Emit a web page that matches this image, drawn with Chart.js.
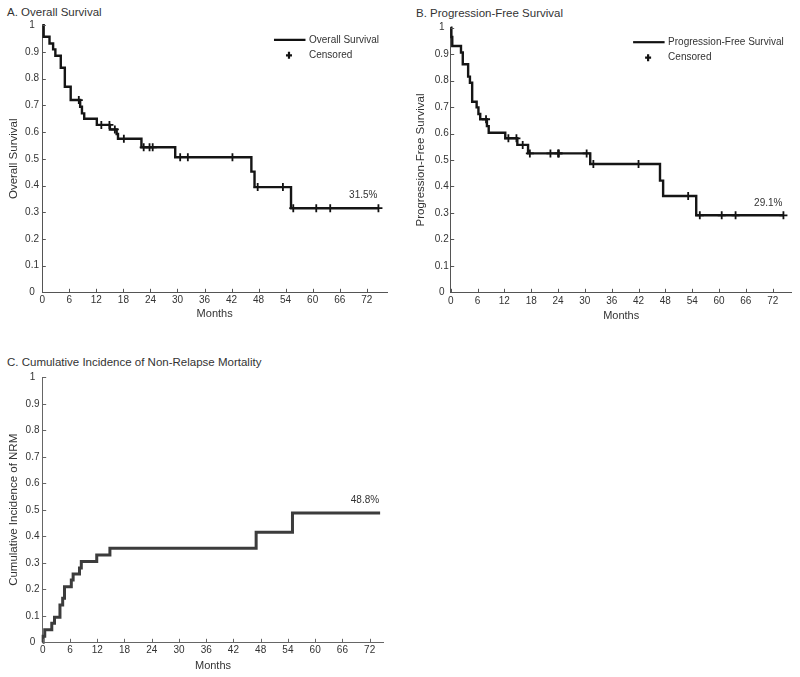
<!DOCTYPE html>
<html><head><meta charset="utf-8">
<script src="https://cdn.jsdelivr.net/npm/chart.js@4.4.1/dist/chart.umd.min.js"></script>
<style>
html,body{margin:0;padding:0;background:#fff;}
#wrap{position:relative;width:800px;height:677px;overflow:hidden;font-family:"Liberation Sans",Arial,sans-serif;background:#fff;}
.ttl{position:absolute;font-size:11.5px;line-height:14px;color:#333;white-space:nowrap;}
canvas{position:absolute;}
</style></head><body>
<div id="wrap">
<div class="ttl" id="tA" style="left:7px;top:5px"></div>
<div class="ttl" id="tB" style="left:416px;top:6px"></div>
<div class="ttl" id="tC" style="left:7px;top:355px"></div>
<canvas id="cA" width="400" height="330" style="left:0;top:0"></canvas>
<canvas id="cB" width="400" height="330" style="left:400px;top:0"></canvas>
<canvas id="cC" width="400" height="347" style="left:0;top:330px"></canvas>
</div>
<script>
// ---------- data ----------
const panelTitles = ["A. Overall Survival", "B. Progression-Free Survival", "C. Cumulative Incidence of Non-Relapse Mortality"];
const yAxisTitles = ["Overall Survival", "Progression-Free Survival", "Cumulative Incidence of NRM"];
const xAxisTitle = "Months";
const monthTicks = [0, 6, 12, 18, 24, 30, 36, 42, 48, 54, 60, 66, 72];
const probTicks = [0, 0.1, 0.2, 0.3, 0.4, 0.5, 0.6, 0.7, 0.8, 0.9, 1];
const endLabels = ["31.5%", "29.1%", "48.8%"];
const legendLineLabels = ["Overall Survival", "Progression-Free Survival"];
const censorLabel = "Censored";

// A. Overall survival (event times in months, survival after each time)
const osTimes = [0, 0.3, 1.6, 2.4, 2.9, 4.1, 5.0, 6.3, 8.4, 8.8, 9.3, 12.1, 15.0, 16.5, 16.8, 22.0, 29.5, 46.4, 47.1, 55.2, 74.6];
const osSurv  = [1, 0.957, 0.932, 0.910, 0.886, 0.841, 0.770, 0.720, 0.695, 0.670, 0.650, 0.627, 0.610, 0.593, 0.575, 0.543, 0.506, 0.452, 0.394, 0.315, 0.315];
const osCensorTimes = [8.1, 13.1, 14.9, 16.1, 18.1, 22.5, 23.8, 24.5, 30.6, 32.3, 42.2, 47.8, 53.4, 55.7, 60.8, 63.9, 74.6];

// B. Progression-free survival
const pfsTimes = [0, 0.15, 0.35, 2.3, 2.7, 3.9, 4.3, 4.8, 5.8, 6.2, 6.6, 8.1, 8.5, 12.2, 14.9, 17.3, 31.2, 46.8, 47.5, 54.9, 74.4];
const pfsSurv  = [1, 0.965, 0.931, 0.906, 0.862, 0.815, 0.792, 0.720, 0.699, 0.674, 0.654, 0.628, 0.603, 0.582, 0.557, 0.525, 0.485, 0.422, 0.364, 0.291, 0.291];
const pfsCensorTimes = [7.9, 12.9, 14.7, 16.1, 17.7, 22.3, 24.0, 24.2, 30.4, 31.9, 42.0, 53.1, 55.7, 60.6, 63.7, 74.4];

// C. Cumulative incidence of NRM
const nrmTimes = [0, 0.1, 0.45, 2.0, 2.6, 3.8, 4.4, 4.8, 6.3, 6.7, 8.1, 8.5, 11.9, 14.8, 47.0, 55.0, 74.3];
const nrmCum   = [0, 0.023, 0.047, 0.072, 0.095, 0.141, 0.166, 0.210, 0.235, 0.258, 0.280, 0.305, 0.329, 0.355, 0.415, 0.488, 0.488];

// ---------- helpers ----------
document.getElementById('tA').textContent = panelTitles[0];
document.getElementById('tB').textContent = panelTitles[1];
document.getElementById('tC').textContent = panelTitles[2];

const FONT = '"Liberation Sans", Arial, sans-serif';
const TXT = '#333';

function levelAt(times, vals, t) {
  let v = vals[0];
  for (let i = 0; i < times.length; i++) if (times[i] <= t) v = vals[i];
  return v;
}

const decor = {
  id: 'panelDecor',
  afterDraw(chart, args, o) {
    const {ctx, chartArea: ca, scales: {x, y}} = chart;
    ctx.save();
    // inward tick marks
    ctx.strokeStyle = o.axisColor; ctx.lineWidth = 1;
    ctx.beginPath();
    x.ticks.forEach(t => { const p = Math.round(x.getPixelForValue(t.value)) + 0.5; ctx.moveTo(p, ca.bottom); ctx.lineTo(p, ca.bottom - o.tickLen); });
    y.ticks.forEach(t => { const p = Math.round(y.getPixelForValue(t.value)) + 0.5; ctx.moveTo(ca.left, p); ctx.lineTo(ca.left + o.tickLen, p); });
    ctx.stroke();
    // end label
    const ds = chart.data.datasets[0].data;
    const last = ds[ds.length - 1];
    ctx.font = '10px ' + FONT; ctx.fillStyle = TXT; ctx.textAlign = 'right'; ctx.textBaseline = 'middle';
    ctx.fillText(o.endLabel, x.getPixelForValue(last.x) - 1, y.getPixelForValue(last.y) - 12.5);
    // legend
    if (o.legend) {
      const lineLbl = chart.data.datasets[0].label, cLbl = chart.data.datasets[1].label;
      ctx.font = '10px ' + FONT; ctx.textAlign = 'left';
      const w = ctx.measureText(lineLbl).width;
      const tx = ca.right - 8 - w;
      const y1 = ca.top + 14.5, y2 = ca.top + 30;
      ctx.fillText(lineLbl, tx, y1);
      ctx.fillText(cLbl, tx, y2);
      ctx.strokeStyle = '#111'; ctx.lineWidth = 2.2;
      ctx.beginPath(); ctx.moveTo(tx - 35, y1); ctx.lineTo(tx - 3.5, y1); ctx.stroke();
      ctx.lineWidth = 2.2;
      ctx.beginPath();
      ctx.moveTo(tx - 20, y2 - 3.5); ctx.lineTo(tx - 20, y2 + 3.5);
      ctx.moveTo(tx - 23, y2); ctx.lineTo(tx - 17, y2);
      ctx.stroke();
    }
    ctx.restore();
  }
};

function makePanel(id, c) {
  const datasets = [{
    label: c.lineLabel,
    data: c.times.map((t, i) => ({x: t, y: c.vals[i]})),
    stepped: true, borderColor: c.lineColor, borderWidth: c.lineWidth,
    pointRadius: 0, fill: false, clip: false, borderJoinStyle: 'miter', borderCapStyle: 'butt'
  }];
  if (c.censor) {
    datasets.push({
      label: censorLabel,
      data: c.censor.map(t => ({x: t, y: levelAt(c.times, c.vals, t)})),
      showLine: false, pointStyle: 'cross', pointRadius: 4, pointBorderWidth: 1.8,
      borderColor: '#111', backgroundColor: '#111', clip: false
    });
  }
  return new Chart(document.getElementById(id), {
    type: 'line',
    data: {datasets},
    options: {
      responsive: false, animation: false, events: [],
      layout: {padding: c.pad},
      plugins: {legend: {display: false}, tooltip: {enabled: false},
        panelDecor: {axisColor: c.axisColor, tickLen: 3.5, endLabel: c.endLabel, legend: !!c.censor}},
      scales: {
        x: {
          type: 'linear', min: 0, max: c.xMax,
          border: {display: true, color: c.axisColor, width: 1},
          grid: {display: false, drawTicks: false},
          ticks: {padding: c.xPad, font: {family: FONT, size: 10}, color: TXT, maxRotation: 0, autoSkip: false,
                  callback: v => String(v)},
          afterBuildTicks: s => { s.ticks = monthTicks.map(v => ({value: v})); },
          afterFit: s => { s.height = c.xH; s.paddingLeft = 0; s.paddingRight = 0; },
          title: {display: true, text: xAxisTitle, font: {family: FONT, size: 11}, color: TXT, padding: {top: 0, bottom: 0}}
        },
        y: {
          type: 'linear', min: 0, max: 1,
          border: {display: true, color: c.axisColor, width: 1},
          grid: {display: false, drawTicks: false},
          ticks: {padding: c.yPad, crossAlign: 'center', font: {family: FONT, size: 10}, color: TXT,
                  callback: v => String(Math.round(v * 10) / 10)},
          afterBuildTicks: s => { s.ticks = probTicks.map(v => ({value: v})); },
          afterFit: s => { s.width = c.yW; s.paddingTop = 0; s.paddingBottom = 0; },
          title: {display: true, text: c.yTitle, font: {family: FONT, size: 11.5}, color: TXT, padding: {top: 0, bottom: 0}}
        }
      }
    },
    plugins: [decor]
  });
}

makePanel('cA', {
  times: osTimes, vals: osSurv, censor: osCensorTimes, lineLabel: legendLineLabels[0],
  lineColor: '#151515', lineWidth: 2.4, axisColor: '#555', endLabel: endLabels[0], yTitle: yAxisTitles[0],
  xMax: 76.5, pad: {left: 7.4, right: 13, top: 25.3, bottom: 9.1}, xH: 28.6, yW: 34.9, xPad: 2.4, yPad: 3.3
});
makePanel('cB', {
  times: pfsTimes, vals: pfsSurv, censor: pfsCensorTimes, lineLabel: legendLineLabels[1],
  lineColor: '#151515', lineWidth: 2.4, axisColor: '#555', endLabel: endLabels[1], yTitle: yAxisTitles[1],
  xMax: 76.25, pad: {left: 14.4, right: 8.3, top: 27.7, bottom: 7.7}, xH: 30, yW: 36.3, xPad: 3.2, yPad: 2
});
makePanel('cC', {
  times: nrmTimes, vals: nrmCum, censor: null, lineLabel: 'NRM',
  lineColor: '#3c3c3c', lineWidth: 3, axisColor: '#666', endLabel: endLabels[2], yTitle: yAxisTitles[2],
  xMax: 75, pad: {left: 6.7, right: 16.7, top: 47.3, bottom: 4.4}, xH: 30.3, yW: 36, xPad: 2.4, yPad: 3.2
});
</script>
</body></html>
